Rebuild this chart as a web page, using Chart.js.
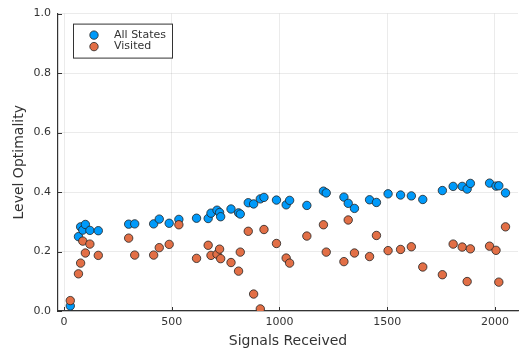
<!DOCTYPE html>
<html>
<head>
<meta charset="utf-8">
<script src="https://cdn.jsdelivr.net/npm/chart.js"></script>
<style>
  html, body { margin: 0; padding: 0; background: #fff; }
  #wrap { width: 525px; height: 350px; }
</style>
</head>
<body>
<div id="wrap"><canvas id="c"></canvas></div>
<script>
// signals received (shared by both series)
const signals = [29, 67, 77, 87, 99, 120, 159, 300, 328, 416, 442, 488, 533, 615, 669, 682, 710, 722, 727, 775,
  810, 818, 855, 880, 911, 928, 986, 1031, 1047, 1127, 1204, 1217, 1299, 1319, 1348, 1418, 1450, 1504, 1562, 1612,
  1665, 1756, 1806, 1848, 1871, 1886, 1975, 2005, 2018, 2049];

const allStates = [0.017, 0.25, 0.283, 0.272, 0.291, 0.271, 0.27, 0.292, 0.293, 0.293, 0.309, 0.295, 0.308, 0.312, 0.311, 0.329, 0.339, 0.331, 0.317, 0.343,
  0.33, 0.326, 0.364, 0.36, 0.377, 0.382, 0.373, 0.357, 0.372, 0.355, 0.403, 0.397, 0.383, 0.362, 0.345, 0.374, 0.365, 0.394, 0.39, 0.387,
  0.375, 0.405, 0.419, 0.419, 0.41, 0.429, 0.43, 0.42, 0.421, 0.397];

const visited = [0.035, 0.125, 0.161, 0.235, 0.195, 0.225, 0.187, 0.245, 0.188, 0.188, 0.213, 0.224, 0.29, 0.177, 0.221, 0.187, 0.191, 0.208, 0.176, 0.163,
  0.134, 0.198, 0.268, 0.057, 0.007, 0.274, 0.227, 0.178, 0.161, 0.252, 0.29, 0.198, 0.166, 0.306, 0.195, 0.183, 0.254, 0.203, 0.207, 0.216,
  0.148, 0.122, 0.225, 0.215, 0.099, 0.209, 0.218, 0.204, 0.097, 0.283];

const xTicks = [0, 500, 1000, 1500, 2000];
const yTicks = [0, 0.2, 0.4, 0.6, 0.8, 1.0];

const seriesNames = ["All States", "Visited"];
const seriesColors = ["#009AFA", "#E26F46"];

const font = "DejaVu Sans";
const ink = "#333333";

function toPoints(ys) {
  return signals.map((x, i) => ({ x: x, y: ys[i] }));
}

// inward tick marks like the original plot
const innerTicks = {
  id: "innerTicks",
  afterDatasetsDraw(chart) {
    const { ctx, chartArea, scales } = chart;
    ctx.save();
    ctx.strokeStyle = ink;
    ctx.lineWidth = 1;
    scales.x.ticks.forEach((t) => {
      const px = Math.round(scales.x.getPixelForValue(t.value)) + 0.5;
      ctx.beginPath();
      ctx.moveTo(px, chartArea.bottom);
      ctx.lineTo(px, chartArea.bottom - 4);
      ctx.stroke();
    });
    scales.y.ticks.forEach((t) => {
      const py = Math.round(scales.y.getPixelForValue(t.value)) + 0.5;
      ctx.beginPath();
      ctx.moveTo(chartArea.left, py);
      ctx.lineTo(chartArea.left + 4, py);
      ctx.stroke();
    });
    ctx.restore();
  },
};

// boxed legend in the top-left corner
const boxLegend = {
  id: "boxLegend",
  afterDraw(chart) {
    const { ctx, chartArea } = chart;
    const x0 = chartArea.left + 15;
    const y0 = chartArea.top + 10;
    ctx.save();
    ctx.fillStyle = "#fff";
    ctx.fillRect(x0 + 0.5, y0 + 0.5, 99, 34);
    ctx.strokeStyle = ink;
    ctx.lineWidth = 1;
    ctx.strokeRect(x0 + 0.5, y0 + 0.5, 99, 34);
    ctx.font = "11px " + font;
    ctx.textBaseline = "middle";
    seriesNames.forEach((name, i) => {
      const cy = y0 + 11.5 + i * 11.5;
      ctx.beginPath();
      ctx.arc(x0 + 21, cy, 4.2, 0, Math.PI * 2);
      ctx.fillStyle = seriesColors[i];
      ctx.fill();
      ctx.strokeStyle = "#222";
      ctx.lineWidth = 0.8;
      ctx.stroke();
      ctx.fillStyle = ink;
      ctx.fillText(name, x0 + 41, cy);
    });
    ctx.restore();
  },
};

new Chart(document.getElementById("c"), {
  type: "scatter",
  data: {
    datasets: [
      {
        label: seriesNames[0],
        data: toPoints(allStates),
        backgroundColor: seriesColors[0],
        borderColor: "#222",
        borderWidth: 0.8,
        pointRadius: 4.2,
        order: 2,
      },
      {
        label: seriesNames[1],
        data: toPoints(visited),
        backgroundColor: seriesColors[1],
        borderColor: "#222",
        borderWidth: 0.8,
        pointRadius: 4.2,
        order: 1,
      },
    ],
  },
  options: {
    responsive: true,
    maintainAspectRatio: false,
    animation: false,
    layout: { padding: { top: 13, right: 7, left: 0, bottom: 0 } },
    plugins: {
      legend: { display: false },
      tooltip: { enabled: false },
    },
    scales: {
      x: {
        type: "linear",
        min: -28,
        max: 2107,
        afterFit: (s) => { s.height = 39; },
        afterBuildTicks: (s) => { s.ticks = xTicks.map((v) => ({ value: v })); },
        ticks: {
          color: ink,
          padding: 5,
          font: { family: font, size: 11 },
          maxRotation: 0,
          callback: (v) => String(v),
        },
        grid: { color: "rgba(0,0,0,0.08)", lineWidth: 1, drawTicks: false },
        border: { color: ink, width: 1.2 },
        title: {
          display: true,
          text: "Signals Received",
          color: ink,
          font: { family: font, size: 14 },
          padding: { top: 2, bottom: 0 },
        },
      },
      y: {
        min: 0,
        max: 1,
        afterFit: (s) => { s.width = 58; },
        afterBuildTicks: (s) => { s.ticks = yTicks.map((v) => ({ value: v })); },
        ticks: {
          color: ink,
          padding: 7,
          font: { family: font, size: 11 },
          callback: (v) => v.toFixed(1),
        },
        grid: { color: "rgba(0,0,0,0.08)", lineWidth: 1, drawTicks: false },
        border: { color: ink, width: 1.2 },
        title: {
          display: true,
          text: "Level Optimality",
          color: ink,
          font: { family: font, size: 14 },
          padding: { top: 11, bottom: 0 },
        },
      },
    },
  },
  plugins: [innerTicks, boxLegend],
});
</script>
</body>
</html>
